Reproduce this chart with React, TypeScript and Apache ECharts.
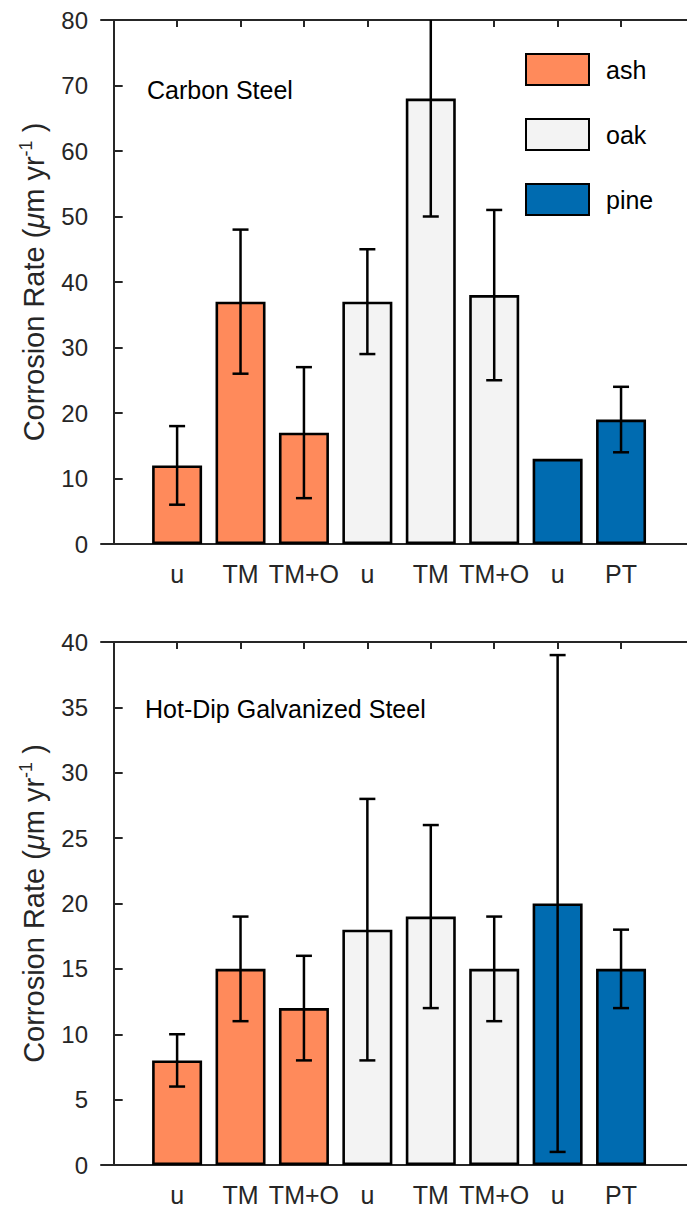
import React, { useEffect, useRef } from "react";
import * as echarts from "echarts";

const tickLabels = ["u", "TM", "TM+O", "u", "TM", "TM+O", "u", "PT"];
const speciesNames = ["ash", "oak", "pine"];
const speciesOfBar = ["ash", "ash", "ash", "oak", "oak", "oak", "pine", "pine"];
const speciesColors = ["#FF8A5B", "#F3F3F3", "#006BB0"];

const carbonMean = [12, 37, 17, 37, 68, 38, 13, 19];
const carbonLow: (number | null)[] = [6, 26, 7, 29, 50, 25, null, 14];
const carbonHigh: (number | null)[] = [18, 48, 27, 45, 86, 51, null, 24];

const galvMean = [8, 15, 12, 18, 19, 15, 20, 15];
const galvLow: (number | null)[] = [6, 11, 8, 8, 12, 11, 1, 12];
const galvHigh: (number | null)[] = [10, 19, 16, 28, 26, 19, 39, 18];

const panelTitles = ["Carbon Steel", "Hot-Dip Galvanized Steel"];
const yMax = [80, 40];
const yStep = [10, 5];

const FONT = "'Liberation Sans', Arial, Helvetica, sans-serif";
const AX = "#262626";
const positions = tickLabels.map((_, i) => i + 1);

function buildOption() {
  const grids = [
    { left: 101, right: 0, top: 20, height: 524 },
    { left: 101, right: 0, top: 642, height: 525 },
  ];
  const xAxes: any[] = [];
  const yAxes: any[] = [];
  const series: any[] = [];
  const means = [carbonMean, galvMean];
  const lows = [carbonLow, galvLow];
  const highs = [carbonHigh, galvHigh];

  grids.forEach((_, g) => {
    xAxes.push({
      type: "value",
      gridIndex: g,
      min: -0.2,
      max: 9.04,
      position: "bottom",
      splitLine: { show: false },
      axisLine: { show: true, onZero: false, lineStyle: { color: AX, width: 2 } },
      axisTick: {
        show: true,
        inside: true,
        length: 7,
        customValues: positions,
        lineStyle: { color: AX, width: 2 },
      },
      axisLabel: {
        show: true,
        customValues: positions,
        formatter: (v: number) => tickLabels[Math.round(v) - 1] ?? "",
        fontSize: 25,
        color: AX,
        fontFamily: FONT,
        margin: 17,
      },
    });
    xAxes.push({
      type: "value",
      gridIndex: g,
      min: -0.2,
      max: 9.04,
      position: "top",
      splitLine: { show: false },
      axisLine: { show: true, onZero: false, lineStyle: { color: AX, width: 2 } },
      axisTick: {
        show: true,
        inside: true,
        length: 7,
        customValues: positions,
        lineStyle: { color: AX, width: 2 },
      },
      axisLabel: { show: false },
    });
    yAxes.push({
      type: "value",
      gridIndex: g,
      min: 0,
      max: yMax[g],
      interval: yStep[g],
      splitLine: { show: false },
      axisLine: { show: true, lineStyle: { color: AX, width: 2 } },
      axisTick: { show: true, inside: true, length: 9, lineStyle: { color: AX, width: 2 } },
      axisLabel: { fontSize: 24, color: AX, fontFamily: FONT, margin: 13 },
      name: "Corrosion Rate ({mu|μ}m yr{sup|-1} )",
      nameLocation: "middle",
      nameRotate: 90,
      nameGap: 50,
      nameTextStyle: {
        fontSize: 29,
        color: AX,
        fontFamily: FONT,
        rich: {
          mu: { fontSize: 29, fontStyle: "italic", color: AX, fontFamily: FONT },
          sup: { fontSize: 18, color: AX, fontFamily: FONT, padding: [0, 0, 16, 0] },
        },
      },
    });

    speciesNames.forEach((sp, s) => {
      const data: any[] = [];
      positions.forEach((x, i) => {
        if (speciesOfBar[i] === sp) data.push([x, means[g][i]]);
      });
      series.push({
        type: "bar",
        name: sp,
        xAxisIndex: g * 2,
        yAxisIndex: g,
        data,
        barWidth: 50,
        barGap: "-100%",
        itemStyle: { color: speciesColors[s], borderColor: "#000", borderWidth: 2.6 },
        emphasis: { disabled: true },
        z: 2,
      });
    });

    const errData: any[] = [];
    positions.forEach((x, i) => {
      const lo = lows[g][i];
      const hi = highs[g][i];
      if (lo != null && hi != null) errData.push([x, lo, hi]);
    });
    series.push({
      type: "custom",
      xAxisIndex: g * 2,
      yAxisIndex: g,
      clip: true,
      z: 5,
      data: errData,
      renderItem: (params: any, api: any) => {
        const x = api.value(0);
        const pLo = api.coord([x, api.value(1)]);
        const pHi = api.coord([x, api.value(2)]);
        const hw = 8;
        const st = { stroke: "#000", lineWidth: 2.5 };
        return {
          type: "group",
          children: [
            { type: "line", shape: { x1: pLo[0], y1: pLo[1], x2: pHi[0], y2: pHi[1] }, style: st },
            { type: "line", shape: { x1: pLo[0] - hw, y1: pLo[1], x2: pLo[0] + hw, y2: pLo[1] }, style: st },
            { type: "line", shape: { x1: pHi[0] - hw, y1: pHi[1], x2: pHi[0] + hw, y2: pHi[1] }, style: st },
          ],
        };
      },
    });
  });

  return {
    animation: false,
    backgroundColor: "#ffffff",
    grid: grids,
    xAxis: xAxes,
    yAxis: yAxes,
    legend: {
      data: speciesNames,
      orient: "vertical",
      left: 525,
      top: 53,
      padding: 0,
      itemWidth: 63,
      itemHeight: 31,
      itemGap: 32,
      icon: "rect",
      selectedMode: false,
      textStyle: { fontSize: 25, color: "#000", fontFamily: FONT, padding: [0, 0, 0, 12] },
    },
    graphic: [
      {
        type: "text",
        left: 147,
        top: 77,
        style: { text: panelTitles[0], fontSize: 25, fill: "#000", fontFamily: FONT },
      },
      {
        type: "text",
        left: 145,
        top: 696,
        style: { text: panelTitles[1], fontSize: 25, fill: "#000", fontFamily: FONT },
      },
    ],
    series,
  };
}

export default function App() {
  const ref = useRef<HTMLDivElement>(null);
  useEffect(() => {
    if (!ref.current) return;
    const chart = echarts.init(ref.current, undefined, { renderer: "svg" });
    chart.setOption(buildOption() as any);
    return () => chart.dispose();
  }, []);
  return (
    <div
      ref={ref}
      style={{ position: "absolute", left: 0, top: 0, width: 687, height: 1207, background: "#fff" }}
    />
  );
}
